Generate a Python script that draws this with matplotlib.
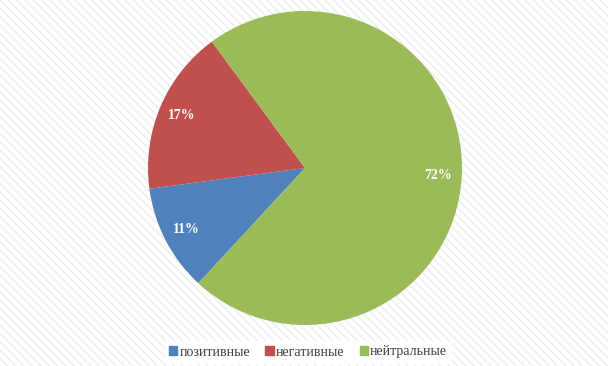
import matplotlib.pyplot as plt
import matplotlib.patches as mpatches

labels = ['позитивные', 'негативные', 'нейтральные']
shares = [11, 17, 72]
colors = ['#4F81BD', '#C0504D', '#9BBB59']

plt.rcParams['font.family'] = ['Liberation Serif', 'DejaVu Serif']
plt.rcParams['hatch.color'] = '#ececec'
plt.rcParams['hatch.linewidth'] = 0.9

fig = plt.figure(figsize=(6.08, 3.66), dpi=100)

# faint diagonal-striped background
bg = mpatches.Rectangle((0, 0), 1, 1, transform=fig.transFigure, facecolor='white',
                        edgecolor='#ececec', hatch='\\' * 4, linewidth=0, zorder=-10)
fig.patches.append(bg)

W, H = 608, 366
cx, cy, r = 305, 168, 157
ax = fig.add_axes([(cx - r) / W, (H - cy - r) / H, 2 * r / W, 2 * r / H])

wedges, texts, autotexts = ax.pie(shares, colors=colors, startangle=227.2, counterclock=False,
                                  autopct='%d%%', pctdistance=0.85, radius=1,
                                  wedgeprops=dict(linewidth=0))
ax.set_xlim(-1, 1)
ax.set_ylim(-1, 1)
ax.axis('off')
for t in autotexts:
    t.set_color('white')
    t.set_fontweight('bold')
    t.set_fontsize(10)

handles = [mpatches.Patch(color=c, label=l) for c, l in zip(colors, labels)]
lgnd = fig.legend(handles=handles, loc='center', bbox_to_anchor=(308 / W, 1 - 352 / H), ncol=3,
                  frameon=True, fancybox=False, edgecolor='white', facecolor='white',
                  fontsize=10, handlelength=0.6, handleheight=0.6, handletextpad=0.15,
                  columnspacing=1.1, borderpad=0.3, framealpha=1)
for t in lgnd.get_texts():
    t.set_color('#404040')

plt.savefig('out.png', dpi=100)
